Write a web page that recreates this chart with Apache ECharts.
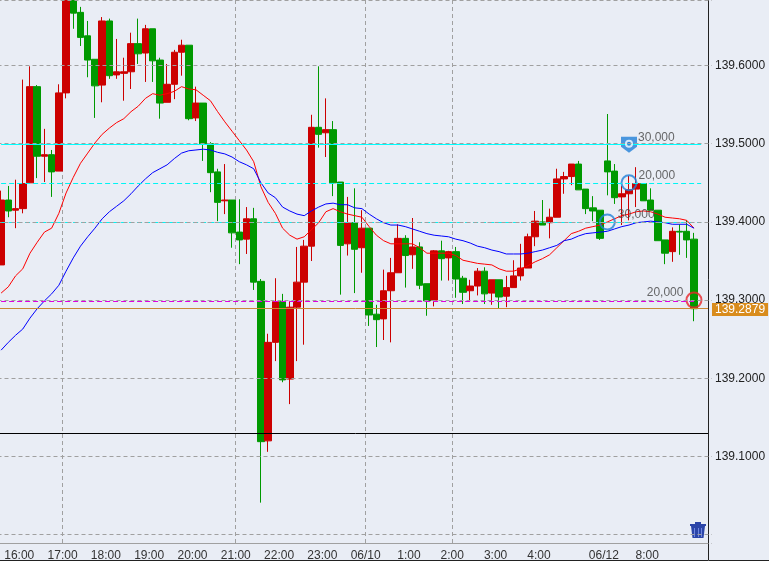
<!DOCTYPE html>
<html>
<head>
<meta charset="utf-8">
<style>html,body{margin:0;padding:0;background:#e9edf5}#main{width:769px;height:561px}</style>
<script src="https://cdn.jsdelivr.net/npm/echarts@6/dist/echarts.min.js"></script>
</head>
<body>
<div id="main"></div>
<script>
// 10 minute bars
var categories = ['15:30','15:40','15:50','16:00','16:10','16:20','16:30','16:40','16:50',
'17:00','17:10','17:20','17:30','17:40','17:50','18:00','18:10','18:20','18:30','18:40','18:50',
'19:00','19:10','19:20','19:30','19:40','19:50','20:00','20:10','20:20','20:30','20:40','20:50',
'21:00','21:10','21:20','21:30','21:40','21:50','22:00','22:10','22:20','22:30','22:40','22:50',
'23:00','23:10','23:20','23:30','23:40','23:50','06/10','0:10','0:20','0:30','0:40','0:50',
'1:00','1:10','1:20','1:30','1:40','1:50','2:00','2:10','2:20','2:30','2:40','2:50',
'3:00','3:10','3:20','3:30','3:40','3:50','4:00','4:10','4:20','4:30','4:40','4:50','5:00','5:10','5:20',
'06/12','7:10','7:20','7:30','7:40','7:50','8:00','8:10','8:20','8:30','8:40','8:50','9:00','9:10','9:20'];
var tickIdx = [3,9,15,21,27,33,39,45,51,57,63,69,75,84,90];
var gridIdx = [9,33,51,63];

var opens = [139.345,139.428,139.415,139.417,139.450,139.573,139.484,139.486,139.465,139.565,
139.690,139.668,139.638,139.608,139.575,139.657,139.588,139.590,139.592,139.628,
139.616,139.647,139.607,139.553,139.576,139.617,139.626,139.533,139.552,139.500,
139.464,139.427,139.428,139.387,139.378,139.404,139.324,139.120,139.246,139.298,
139.199,139.291,139.323,139.369,139.521,139.514,139.518,139.451,139.372,139.399,
139.367,139.392,139.282,139.276,139.312,139.335,139.379,139.358,139.368,139.321,
139.300,139.363,139.354,139.362,139.328,139.312,139.318,139.337,139.309,139.326,
139.305,139.316,139.331,139.341,139.381,139.400,139.399,139.406,139.455,139.458,
139.474,139.442,139.418,139.415,139.478,139.465,139.432,139.436,139.442,139.449,
139.428,139.415,139.377,139.362,139.388,139.388,139.378];
var closes = [139.428,139.414,139.417,139.449,139.573,139.484,139.486,139.464,139.565,139.690,
139.667,139.636,139.607,139.574,139.657,139.587,139.592,139.592,139.628,139.615,
139.647,139.606,139.552,139.576,139.617,139.626,139.532,139.552,139.500,139.463,
139.425,139.428,139.386,139.377,139.404,139.323,139.119,139.246,139.298,139.198,
139.291,139.323,139.369,139.521,139.512,139.518,139.450,139.370,139.399,139.365,
139.392,139.281,139.275,139.312,139.335,139.379,139.357,139.368,139.319,139.299,
139.363,139.353,139.362,139.327,139.310,139.318,139.337,139.308,139.326,139.304,
139.316,139.331,139.341,139.381,139.401,139.396,139.406,139.455,139.458,139.474,
139.441,139.417,139.414,139.379,139.464,139.431,139.436,139.441,139.449,139.427,
139.415,139.376,139.360,139.388,139.387,139.377,139.289];
var lows = [139.345,139.406,139.392,139.411,139.450,139.456,139.451,139.432,139.465,139.558,
139.647,139.625,139.585,139.533,139.553,139.583,139.583,139.555,139.570,139.602,
139.579,139.579,139.532,139.553,139.557,139.587,139.530,139.529,139.478,139.438,
139.401,139.410,139.367,139.346,139.359,139.313,139.041,139.106,139.222,139.195,
139.167,139.222,139.243,139.350,139.495,139.483,139.433,139.307,139.357,139.309,
139.335,139.267,139.240,139.249,139.246,139.335,139.316,139.340,139.314,139.280,
139.292,139.325,139.325,139.303,139.295,139.299,139.306,139.295,139.294,139.289,
139.291,139.316,139.325,139.341,139.369,139.396,139.379,139.406,139.436,139.447,
139.441,139.410,139.401,139.377,139.434,139.423,139.396,139.402,139.419,139.427,
139.415,139.376,139.346,139.349,139.358,139.354,139.273];
var highs = [139.440,139.446,139.454,139.582,139.599,139.575,139.519,139.492,139.576,139.692,
139.695,139.675,139.657,139.608,139.662,139.660,139.634,139.610,139.642,139.660,
139.652,139.647,139.610,139.602,139.620,139.633,139.626,139.573,139.552,139.502,
139.468,139.474,139.428,139.429,139.419,139.418,139.327,139.257,139.328,139.308,
139.299,139.368,139.377,139.537,139.599,139.558,139.529,139.451,139.432,139.443,
139.415,139.392,139.294,139.339,139.354,139.397,139.383,139.405,139.374,139.321,
139.364,139.376,139.363,139.368,139.331,139.326,139.341,139.342,139.326,139.326,
139.331,139.351,139.372,139.385,139.414,139.428,139.417,139.468,139.464,139.474,
139.478,139.442,139.433,139.415,139.538,139.474,139.446,139.459,139.470,139.449,
139.443,139.415,139.377,139.393,139.397,139.402,139.386];

var maRed = [139.309,139.317,139.331,139.340,139.360,139.374,139.387,139.392,139.411,139.437,
139.457,139.475,139.488,139.501,139.512,139.520,139.527,139.532,139.541,139.548,
139.558,139.564,139.562,139.564,139.567,139.573,139.570,139.569,139.562,139.555,
139.541,139.528,139.516,139.504,139.492,139.477,139.445,139.425,139.411,139.392,
139.383,139.378,139.381,139.390,139.399,139.413,139.417,139.413,139.410,139.408,
139.406,139.394,139.383,139.376,139.372,139.372,139.372,139.372,139.367,139.360,
139.360,139.360,139.360,139.357,139.351,139.349,139.347,139.346,139.345,139.340,
139.337,139.337,139.340,139.344,139.349,139.353,139.358,139.367,139.376,139.385,
139.388,139.392,139.394,139.396,139.400,139.404,139.408,139.410,139.413,139.414,
139.413,139.410,139.406,139.405,139.404,139.402,139.392];
var maBlue = [139.236,139.246,139.255,139.263,139.277,139.289,139.299,139.308,139.319,139.337,
139.354,139.369,139.381,139.392,139.404,139.413,139.420,139.427,139.436,139.446,
139.455,139.463,139.468,139.473,139.481,139.488,139.491,139.492,139.493,139.492,
139.489,139.487,139.483,139.477,139.473,139.468,139.450,139.437,139.431,139.419,
139.414,139.410,139.408,139.414,139.419,139.423,139.424,139.422,139.422,139.418,
139.417,139.410,139.404,139.399,139.396,139.396,139.394,139.391,139.388,139.385,
139.383,139.382,139.381,139.378,139.376,139.373,139.369,139.367,139.364,139.362,
139.359,139.359,139.359,139.360,139.362,139.364,139.367,139.370,139.376,139.378,
139.382,139.385,139.386,139.387,139.388,139.391,139.394,139.396,139.399,139.400,
139.401,139.400,139.399,139.397,139.397,139.397,139.392];

// horizontal levels
var cyanSolid = 139.4990;
var cyanDashed = [139.4495, 139.3995];
var magentaLevel = 139.2985;
var askLevel = 139.2879;
var blackLevel = 139.1350;

// order markers
var ringIdx = [84, 87, 96];
var ringPrice = [139.400, 139.450, 139.300];
var ringText = ['30,000', '20,000', '20,000'];
var ringColor = ['#2080d8', '#2080d8', '#e8262a'];
var shieldIdx = 87;
var shieldPrice = 139.500;
var shieldText = '30,000';

var yMin = 138.9894, yMax = 139.6838;
var bg = '#e9edf5';

var kData = [];
for (var i = 0; i < opens.length; i++) {
	kData.push([opens[i], closes[i], lows[i], highs[i]]);
}

var markLineData = [];
function addLevel(v, color, type, endIdx) {
	var style = {color: color, width: 1, type: type};
	if (endIdx == null) {
		markLineData.push({yAxis: v, lineStyle: style});
	} else {
		markLineData.push([{xAxis: 0, yAxis: v, lineStyle: style}, {xAxis: endIdx, yAxis: v}]);
	}
}
addLevel(cyanSolid, '#00ffff', 'solid', 97);
addLevel(cyanDashed[0], '#00f4f4', [5, 3], 97);
addLevel(cyanDashed[1], '#00f4f4', [5, 3], 97);
addLevel(magentaLevel, '#e000e0', [5, 3], 96);
addLevel(askLevel, '#cc8833', 'solid');
addLevel(blackLevel, '#000000', 'solid');

var ringData = [];
for (var r = 0; r < ringIdx.length; r++) {
	ringData.push({
		value: [ringIdx[r], ringPrice[r]],
		itemStyle: {color: 'rgba(0,0,0,0)', borderColor: ringColor[r], borderWidth: 2},
		label: {
			show: true,
			formatter: ringText[r],
			position: r == 2 ? 'left' : 'right',
			distance: r == 1 ? 1 : 2,
			offset: [0, -7],
			color: '#444',
			fontSize: 12,
			fontFamily: 'Liberation Sans'
		}
	});
}

var myChart = echarts.init(document.getElementById('main'));

var option = {
	backgroundColor: bg,
	animation: false,
	grid: {left: -2.5, top: 0, width: 714.5, height: 543, outerBoundsMode: 'none'},
	xAxis: {
		type: 'category',
		data: categories,
		boundaryGap: true,
		axisLine: {lineStyle: {color: '#a0a0a0', width: 1}},
		axisTick: {
			length: 3,
			lineStyle: {color: '#a0a0a0'},
			interval: function (idx) { return tickIdx.indexOf(idx) >= 0; }
		},
		axisLabel: {
			interval: function (idx) { return tickIdx.indexOf(idx) >= 0; },
			color: '#333',
			fontSize: 12,
			fontFamily: 'Liberation Sans',
			margin: 7,
			padding: [0, 7, 0, 0]
		},
		splitLine: {
			show: true,
			interval: function (idx) { return gridIdx.indexOf(idx) >= 0; },
			lineStyle: {color: '#a0a0a0', type: [4, 3], width: 1}
		}
	},
	yAxis: [{
		type: 'value',
		position: 'right',
		min: yMin,
		max: yMax,
		splitNumber: 7,
		z: 10,
		axisLine: {show: false},
		axisTick: {show: false},
		axisLabel: {
			color: '#222',
			fontSize: 12,
			fontFamily: 'Liberation Sans',
			margin: 3,
			formatter: function (v) {
				if (v < 139.05 || v > 139.65) return '';
				return v.toFixed(4);
			}
		},
		splitLine: {show: true, lineStyle: {color: '#a0a0a0', type: [4, 3], width: 1}}
	}, {
		// price tag
		type: 'value',
		position: 'right',
		min: yMin,
		max: yMax,
		z: 11,
		axisLine: {show: false},
		axisTick: {show: false},
		splitLine: {show: false},
		axisLabel: {
			customValues: [askLevel],
			color: '#ffffff',
			backgroundColor: '#d98c1c',
			fontSize: 12,
			fontFamily: 'Liberation Sans',
			margin: 0,
			padding: [1, 3, 0, 3],
			formatter: function (v) { return v.toFixed(4); }
		}
	}],
	series: [{
		name: 'k',
		type: 'candlestick',
		data: kData,
		barWidth: 7,
		z: 2,
		itemStyle: {color: '#cc0000', color0: '#009900', borderColor: '#cc0000', borderColor0: '#009900', borderWidth: 1}
	}, {
		name: 'ma1',
		type: 'line',
		data: maRed,
		symbol: 'none',
		z: 3,
		lineStyle: {color: '#ff0000', width: 1}
	}, {
		name: 'ma2',
		type: 'line',
		data: maBlue,
		symbol: 'none',
		z: 3,
		lineStyle: {color: '#0000ff', width: 1}
	}, {
		name: 'levels',
		type: 'line',
		data: [],
		z: 3,
		markLine: {silent: true, symbol: 'none', label: {show: false}, data: markLineData}
	}, {
		name: 'rings',
		type: 'scatter',
		data: ringData,
		symbolSize: 15,
		z: 4
	}, {
		name: 'shield',
		type: 'scatter',
		data: [{
			value: [shieldIdx, shieldPrice],
			label: {show: true, formatter: shieldText, position: 'right', distance: 1, offset: [0, -7],
				color: '#444', fontSize: 12, fontFamily: 'Liberation Sans'}
		}],
		symbol: 'path://M0 0L16 0L16 10L8 16L0 10Z',
		symbolSize: [16, 16],
		symbolOffset: [0, 1],
		itemStyle: {color: '#2080d8'},
		z: 4
	}, {
		name: 'shield ring',
		type: 'scatter',
		data: [[shieldIdx, shieldPrice]],
		symbolSize: 6,
		itemStyle: {color: '#2080d8', borderColor: '#ffffff', borderWidth: 2},
		z: 5
	}],
	graphic: [
		// right pane covers the part of the grid past the price axis
		{type: 'rect', z: 6, shape: {x: 708.5, y: -2, width: 80, height: 562.5},
			style: {fill: bg, stroke: '#222', lineWidth: 1}},
		{type: 'line', z: 6, shape: {x1: 0, y1: 560.5, x2: 708, y2: 560.5}, style: {stroke: '#222', lineWidth: 1}},
		// trash can
		{type: 'rect', z: 7, shape: {x: 690, y: 524, width: 16, height: 2}, style: {fill: '#2b45a8'}},
		{type: 'rect', z: 7, shape: {x: 695, y: 522, width: 6, height: 2}, style: {fill: '#2b45a8'}},
		{type: 'polygon', z: 7, shape: {points: [[691, 526], [705, 526], [703.5, 538], [692.5, 538]]}, style: {fill: '#2b45a8'}},
		{type: 'rect', z: 8, shape: {x: 694, y: 528, width: 1, height: 9}, style: {fill: '#6f86e0'}},
		{type: 'rect', z: 8, shape: {x: 698, y: 528, width: 1, height: 9}, style: {fill: '#6f86e0'}},
		{type: 'rect', z: 8, shape: {x: 701, y: 528, width: 1, height: 9}, style: {fill: '#6f86e0'}}
	]
};

myChart.setOption(option);
</script>
</body>
</html>
